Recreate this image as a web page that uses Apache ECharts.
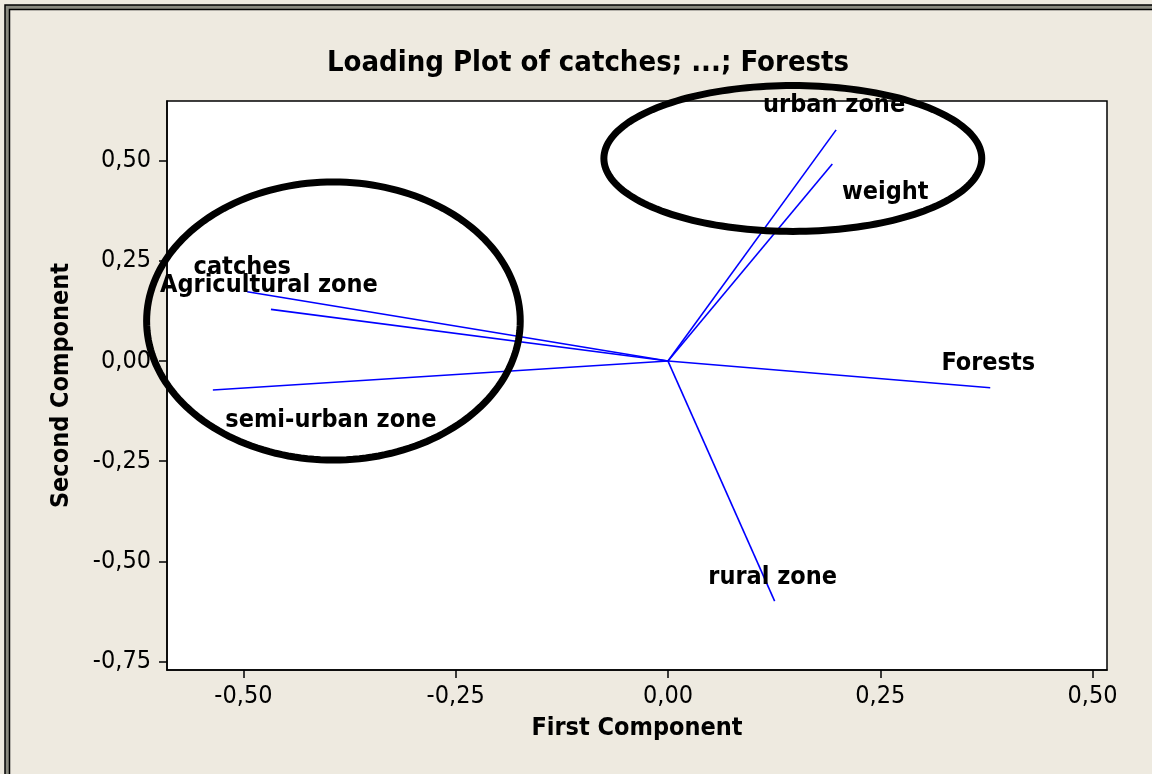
<!DOCTYPE html>
<html style="height: 100%; width: 100%;">
<head>
    <meta charset="utf-8">
    <title>Loading Plot</title>
    <script src="https://cdn.jsdelivr.net/npm/echarts@6/dist/echarts.min.js"></script>
    <style>
        body, html {
            margin: 0;
            padding: 0;
            width: 100%;
            height: 100%;
            overflow: hidden;
            background: #eeeae0;
        }
        #main {
            width: 1152px;
            height: 774px;
        }
    </style>
</head>
<body>
<div id="main"></div>
<script type="text/javascript">
    // loadings
    var variables = ['catches', 'Agricultural zone', 'semi-urban zone', 'urban zone', 'weight', 'rural zone', 'Forests'];
    var firstComponent = [-0.4955, -0.4676, -0.536, 0.198, 0.1935, 0.1256, 0.3795];
    var secondComponent = [0.173, 0.129, -0.0724, 0.577, 0.492, -0.599, -0.0667];

    // the two hand-drawn groupings (centre and radii in data units)
    var ellipseCx = [-0.394, 0.147];
    var ellipseCy = [0.0999, 0.5056];
    var ellipseRx = [0.220, 0.2225];
    var ellipseRy = [0.347, 0.182];

    var tickValues = [-0.75, -0.5, -0.25, 0, 0.25, 0.5];

    var fontFamily = '"DejaVu Sans Condensed", "DejaVu Sans", sans-serif';

    // where each label sits relative to the end of its arrow (px)
    var labelNudge = {
        'catches': [-5, -24],
        'weight': [53, 29],
        'semi-urban zone': [118, 30]
    };

    function fmt(v) {
        return v.toFixed(2).replace('.', ',');
    }

    var vectorData = variables.map(function (name, i) {
        return { name: name, coords: [[0, 0], [firstComponent[i], secondComponent[i]]] };
    });

    var labelData = variables.map(function (name, i) {
        return {
            name: name,
            value: [firstComponent[i], secondComponent[i]],
            label: { offset: labelNudge[name] || [-2, -24] }
        };
    });

    var ellipseData = ellipseCx.map(function (cx, i) {
        return [cx, ellipseCy[i], ellipseRx[i], ellipseRy[i]];
    });

    var chart = echarts.init(document.getElementById('main'));

    var axisCommon = {
        axisLine: { onZero: false, lineStyle: { color: '#000', width: 1.5 } },
        axisTick: { length: 8, lineStyle: { color: '#000', width: 1.5 } },
        splitLine: { show: false },
        nameTextStyle: { fontFamily: fontFamily, fontWeight: 'bold', fontSize: 25, color: '#000' }
    };

    var option = {
        backgroundColor: '#eeeae0',
        animation: false,
        title: {
            text: 'Loading Plot of catches; ...; Forests',
            left: 583,
            top: 44,
            textAlign: 'center',
            textStyle: { fontFamily: fontFamily, fontWeight: 'bold', fontSize: 29, color: '#000' }
        },
        graphic: [
            { type: 'rect', shape: { x: 7, y: 7, width: 1300, height: 900 }, style: { fill: null, stroke: '#8a8a80', lineWidth: 4 }, silent: true },
            { type: 'rect', shape: { x: 5, y: 5, width: 1300, height: 900 }, style: { fill: null, stroke: '#000', lineWidth: 1.5 }, silent: true },
            { type: 'rect', shape: { x: 9.5, y: 9.5, width: 1300, height: 900 }, style: { fill: null, stroke: '#000', lineWidth: 1.5 }, silent: true }
        ],
        grid: {
            left: 167,
            top: 101,
            right: 45,
            bottom: 104,
            show: true,
            backgroundColor: '#fff',
            borderColor: '#000',
            borderWidth: 1.5
        },
        xAxis: Object.assign({}, axisCommon, {
            type: 'value',
            min: -0.59,
            max: 0.517,
            name: 'First Component',
            nameLocation: 'middle',
            nameGap: 46,
            axisTick: Object.assign({}, axisCommon.axisTick, { customValues: tickValues }),
            axisLabel: {
                customValues: tickValues,
                formatter: fmt,
                margin: 14,
                fontFamily: fontFamily,
                fontSize: 25,
                color: '#000'
            }
        }),
        yAxis: Object.assign({}, axisCommon, {
            type: 'value',
            min: -0.771,
            max: 0.649,
            name: 'Second Component',
            nameLocation: 'middle',
            nameRotate: 90,
            nameGap: 93,
            axisTick: Object.assign({}, axisCommon.axisTick, { customValues: tickValues }),
            axisLabel: {
                customValues: tickValues,
                formatter: fmt,
                margin: 16,
                fontFamily: fontFamily,
                fontSize: 25,
                color: '#000'
            }
        }),
        series: [
            {
                type: 'lines',
                coordinateSystem: 'cartesian2d',
                data: vectorData,
                symbol: 'none',
                lineStyle: { color: '#0000ff', width: 1.6, opacity: 1 },
                z: 3
            },
            {
                type: 'scatter',
                data: labelData,
                symbolSize: 0,
                itemStyle: { opacity: 1 },
                label: {
                    show: true,
                    position: [0, 0],
                    align: 'center',
                    verticalAlign: 'middle',
                    formatter: '{b}',
                    fontFamily: fontFamily,
                    fontWeight: 'bold',
                    fontSize: 25,
                    color: '#000',
                    opacity: 1,
                    textBorderWidth: 0
                },
                z: 4
            },
            {
                type: 'custom',
                clip: false,
                data: ellipseData,
                renderItem: function (params, api) {
                    var cx = api.value(0), cy = api.value(1);
                    var rx = api.value(2), ry = api.value(3);
                    var pts = [];
                    for (var k = 0; k < 180; k++) {
                        var a = k / 180 * Math.PI * 2;
                        pts.push(api.coord([cx + rx * Math.cos(a), cy + ry * Math.sin(a)]));
                    }
                    return {
                        type: 'polygon',
                        shape: { points: pts },
                        style: { fill: null, stroke: '#000', lineWidth: 7 }
                    };
                },
                z: 5
            }
        ]
    };

    chart.setOption(option);
</script>
</body>
</html>
